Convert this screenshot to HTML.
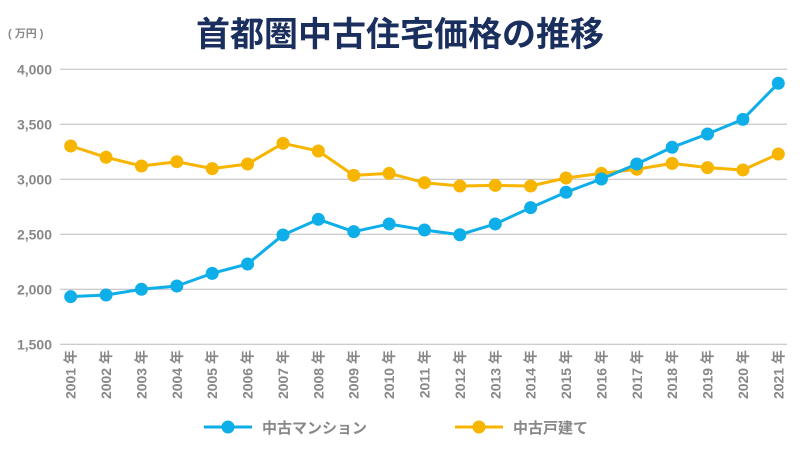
<!DOCTYPE html>
<html><head><meta charset="utf-8"><style>
body{margin:0;background:#fff;}
svg text{font-family:"Liberation Sans","Noto Sans CJK JP",sans-serif;}
</style></head><body>
<svg id="chart" width="800" height="450">
<text x="400" y="46" text-anchor="middle" font-size="34" font-weight="bold" fill="#1b2f5e">首都圏中古住宅価格の推移</text>
<text x="8" y="37" font-size="11" fill="#888" font-weight="bold">( 万円 )</text>
<g id="grid"></g><g id="ylabels"></g><g id="xlabels"></g><g id="series"></g>
<g>
<g>
<line x1="204" y1="427" x2="252" y2="427" stroke="#0eaee9" stroke-width="3"/><circle cx="228" cy="427" r="6.5" fill="#0eaee9"/>
<text x="262" y="433" font-size="15" fill="#888" font-weight="bold">中古マンション</text></g>
<g>
<line x1="455" y1="427" x2="503" y2="427" stroke="#f7b500" stroke-width="3"/><circle cx="479" cy="427" r="6.5" fill="#f7b500"/>
<text x="513" y="433" font-size="15" fill="#888" font-weight="bold">中古戸建て</text></g>
</g>
</svg>
<script>
const years=["2001","2002","2003","2004","2005","2006","2007","2008","2009","2010","2011","2012","2013","2014","2015","2016","2017","2018","2019","2020","2021"];
const mansion=[1933,1948,2000,2030,2145,2230,2494,2636,2524,2594,2539,2496,2594,2742,2882,3003,3139,3291,3412,3545,3873];
const house=[3303,3200,3121,3160,3097,3139,3327,3257,3036,3054,2969,2939,2945,2939,3012,3054,3091,3145,3106,3085,3230];
const yTicks=[1500,2000,2500,3000,3500,4000];
const NS="http://www.w3.org/2000/svg";
const y=v=>344.3-(v-1500)*0.11;
const x=i=>70.7+i*(778.3-70.7)/(years.length-1);
function mk(t,a,p){const e=document.createElementNS(NS,t);for(const k in a)e.setAttribute(k,a[k]);p.appendChild(e);return e;}
const grid=document.getElementById('grid'),yl=document.getElementById('ylabels'),xl=document.getElementById('xlabels'),se=document.getElementById('series');
yTicks.forEach(v=>{
 const l=mk('line',{x1:60,x2:787,y1:y(v),y2:y(v),stroke:'#bbb','stroke-width':1},grid);
 
 
 const t=mk('text',{x:52,y:y(v)+5,'text-anchor':'end','font-size':14,fill:'#888','font-weight':'bold'},yl);
 t.textContent=v.toLocaleString('en-US');
 
 
});
years.forEach((yr,i)=>{
 const t=mk('text',{x:0,y:0,'text-anchor':'end','font-size':14,fill:'#888','font-weight':'bold',transform:`translate(${x(i)+5},350) rotate(-90)`},xl);
 t.textContent=yr+' 年';
 
 
});
function series(vals,color,name){
 const g=mk('g',{},se);
 
 
 const p=mk('polyline',{points:vals.map((v,i)=>x(i)+','+y(v)).join(' '),fill:'none',stroke:color,'stroke-width':3,'stroke-linejoin':'round'},g);
 
 
 vals.forEach((v,i)=>{
  const c=mk('circle',{cx:x(i),cy:y(v),r:6.5,fill:color},g);
  
  
 });
}
series(house,'#f7b500','house-series');
series(mansion,'#0eaee9','mansion-series');
</script>
</body></html>
